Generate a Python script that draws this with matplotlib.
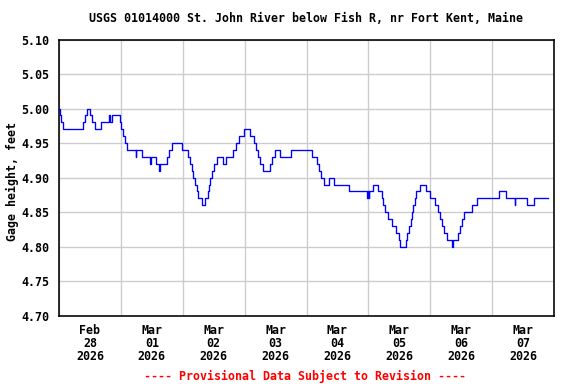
import matplotlib
matplotlib.use("Agg")
import matplotlib.pyplot as plt
import matplotlib.dates as mdates
from datetime import datetime, timedelta
import numpy as np

# Data: step breakpoints (hours since 2026-02-28 00:00) and gage height (ft)
hours = [0.0, 0.3, 0.9, 1.7, 9.4, 10.1, 10.9, 12.2, 12.9, 14.1, 16.4, 19.3, 19.9, 20.4,
         23.5, 24.2, 24.8, 25.6, 26.4, 29.7, 30.0, 32.3, 35.2, 35.5, 37.6, 38.9, 39.2,
         41.7, 42.8, 43.8, 47.8, 50.0, 50.8, 51.5, 52.1, 52.7, 53.4, 54.1, 55.3, 56.8,
         57.6, 58.2, 58.7, 59.3, 60.3, 61.1, 63.5, 64.6, 67.3, 68.5, 69.8, 71.9, 74.2,
         75.8, 76.5, 77.2, 78.0, 79.1, 82.0, 82.7, 83.6, 85.9, 90.1, 98.2, 100.2, 100.9,
         101.6, 102.9, 104.8, 106.8, 112.6, 119.4, 119.7, 120.1, 120.4, 121.9, 123.7,
         125.1, 125.7, 126.4, 127.8, 129.0, 130.7, 131.7, 132.4, 134.4, 135.1, 135.8,
         136.4, 137.0, 137.4, 138.0, 138.6, 140.2, 142.2, 144.0, 146.0, 146.9, 147.6,
         148.5, 149.5, 150.4, 152.5, 152.8, 154.9, 155.7, 156.4, 157.2, 160.1, 162.0,
         170.8, 173.4, 176.7, 177.0, 181.4, 184.3, 189.8]
heights = [5.00, 4.99, 4.98, 4.97, 4.98, 4.99, 5.00, 4.99, 4.98, 4.97, 4.98, 4.99, 4.98, 4.99,
           4.98, 4.97, 4.96, 4.95, 4.94, 4.93, 4.94, 4.93, 4.92, 4.93, 4.92, 4.91, 4.92,
           4.93, 4.94, 4.95, 4.94, 4.93, 4.92, 4.91, 4.90, 4.89, 4.88, 4.87, 4.86, 4.87,
           4.88, 4.89, 4.90, 4.91, 4.92, 4.93, 4.92, 4.93, 4.94, 4.95, 4.96, 4.97, 4.96,
           4.95, 4.94, 4.93, 4.92, 4.91, 4.92, 4.93, 4.94, 4.93, 4.94, 4.93, 4.92, 4.91,
           4.90, 4.89, 4.90, 4.89, 4.88, 4.87, 4.88, 4.87, 4.88, 4.89, 4.88,
           4.87, 4.86, 4.85, 4.84, 4.83, 4.82, 4.81, 4.80, 4.81, 4.82, 4.83,
           4.84, 4.85, 4.86, 4.87, 4.88, 4.89, 4.88, 4.87, 4.86, 4.85, 4.84,
           4.83, 4.82, 4.81, 4.80, 4.81, 4.82, 4.83, 4.84, 4.85, 4.86, 4.87,
           4.88, 4.87, 4.86, 4.87, 4.86, 4.87, 4.87]

tick_months = ["Feb", "Mar", "Mar", "Mar", "Mar", "Mar", "Mar", "Mar"]
tick_days = ["28", "01", "02", "03", "04", "05", "06", "07"]
tick_years = ["2026"] * 8
y_ticks = [4.70, 4.75, 4.80, 4.85, 4.90, 4.95, 5.00, 5.05, 5.10]

title = "USGS 01014000 St. John River below Fish R, nr Fort Kent, Maine"
ylabel = "Gage height, feet"
footer = "---- Provisional Data Subject to Revision ----"

start = datetime(2026, 2, 28)
times = [start + timedelta(hours=h) for h in hours]

FONT = dict(family="DejaVu Sans Mono", weight="bold", size=8.7)

W, H = 576, 384
fig = plt.figure(figsize=(W / 96, H / 96), dpi=96)
ax = fig.add_axes([59 / W, 1 - 315.7 / H, (554 - 59) / W, (315.7 - 39.5) / H])

ax.step(times, heights, where="post", color="#0000ff", linewidth=1.0, zorder=3)

ax.set_xlim(start, start + timedelta(days=8))
ax.set_ylim(4.70, 5.10)

major = [start + timedelta(days=i, hours=12) for i in range(len(tick_days))]
ax.set_xticks(major)
ax.set_xticklabels([f"{m}\n{d}\n{y}" for m, d, y in zip(tick_months, tick_days, tick_years)],
                   linespacing=1.0, **FONT)
ax.xaxis.set_minor_locator(mdates.DayLocator())
ax.set_yticks(y_ticks)
ax.set_yticklabels([f"{v:.2f}" for v in y_ticks], **FONT)

ax.tick_params(axis="x", which="both", length=0, pad=6.5)
ax.tick_params(axis="y", which="both", length=0, pad=7)

ax.grid(which="minor", axis="x", color="#cccccc", linewidth=1.0)
ax.grid(which="major", axis="y", color="#cccccc", linewidth=1.0)
ax.grid(which="major", axis="x", visible=False)
ax.set_axisbelow(True)
for s in ax.spines.values():
    s.set_linewidth(1.2)
    s.set_color("black")

fig.text(12 / W, 1 - 181 / H, ylabel, rotation=90, ha="center", va="center", **FONT)
fig.text(306 / W, 1 - 19 / H, title, ha="center", va="center", **FONT)
fig.text(305 / W, 1 - 376 / H, footer, ha="center", va="center", color="red", **FONT)

fig.savefig("out.png", dpi=96)
